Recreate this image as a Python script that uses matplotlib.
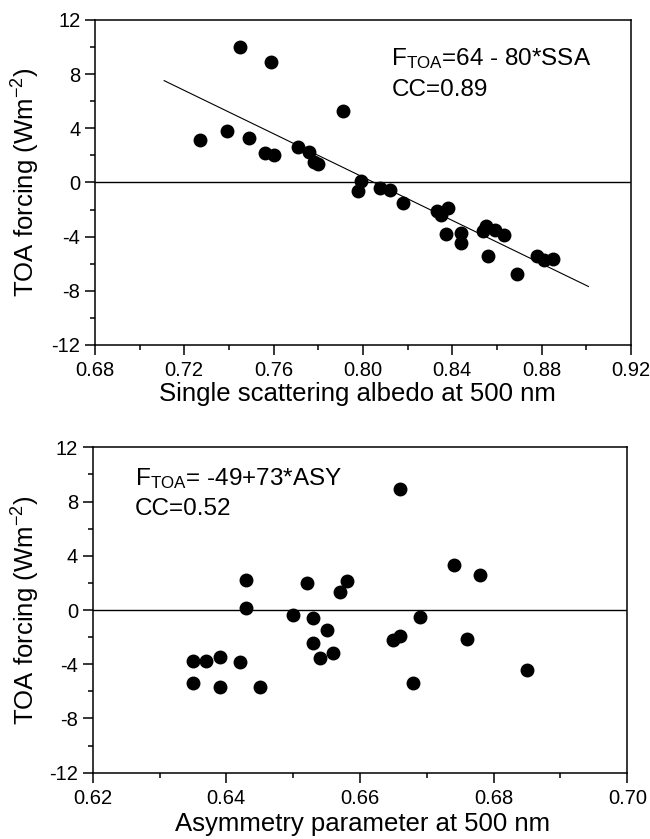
import matplotlib
matplotlib.use("Agg")
import matplotlib.pyplot as plt
import numpy as np

plt.rcParams['font.family'] = ['Liberation Sans', 'DejaVu Sans']
plt.rcParams['mathtext.default'] = 'regular'

# 上图: 单次散射反照率 vs TOA 强迫
ssa = [0.745, 0.759, 0.791, 0.727, 0.739, 0.749, 0.756, 0.760, 0.771, 0.776,
       0.778, 0.780, 0.799, 0.798, 0.8075, 0.812, 0.818, 0.833, 0.835, 0.838,
       0.837, 0.844, 0.844, 0.855, 0.854, 0.859, 0.863, 0.856, 0.869, 0.878,
       0.881, 0.885]
toa_ssa = [10.0, 8.9, 5.3, 3.1, 3.8, 3.3, 2.2, 2.0, 2.6, 2.25,
           1.5, 1.35, 0.1, -0.6, -0.4, -0.55, -1.5, -2.1, -2.4, -1.9,
           -3.8, -3.75, -4.45, -3.2, -3.6, -3.5, -3.85, -5.4, -6.75, -5.4,
           -5.7, -5.65]
fit_ssa_x = [0.711, 0.901]
fit_ssa_a, fit_ssa_b = 64.4, -80.0

# 下图: 不对称因子 vs TOA 强迫
asy = [0.643, 0.643, 0.635, 0.637, 0.639, 0.642, 0.635, 0.639, 0.645,
       0.652, 0.657, 0.658, 0.650, 0.653, 0.655, 0.653, 0.654, 0.656,
       0.666, 0.674, 0.678, 0.669, 0.665, 0.666, 0.676, 0.668, 0.685]
toa_asy = [2.25, 0.13, -3.75, -3.75, -3.5, -3.8, -5.35, -5.65, -5.65,
           1.97, 1.35, 2.15, -0.37, -0.6, -1.47, -2.45, -3.55, -3.2,
           8.9, 3.3, 2.6, -0.5, -2.2, -1.9, -2.1, -5.35, -4.4]

LABEL_FS = 18.5
TICK_FS = 14.5
NOTE_FS = 17.5

fig = plt.figure(figsize=(6.5, 8.39), dpi=100)
ax1 = fig.add_axes([0.146, 0.5888, 0.8246, 0.3874])
ax2 = fig.add_axes([0.1426, 0.0790, 0.8225, 0.3878])


def style_axis(ax):
    for sp in ax.spines.values():
        sp.set_linewidth(1.1)
    ax.tick_params(which='major', direction='out', length=7, width=1.1,
                   labelsize=TICK_FS)
    ax.tick_params(which='minor', direction='out', length=3.8, width=1.1)
    ax.tick_params(axis='x', which='major', pad=4.5)
    ax.tick_params(axis='y', which='major', pad=3.5)
    ax.tick_params(top=False, right=False, which='both')
    ax.set_ylim(-12, 12)
    ax.set_yticks(np.arange(-12, 13, 4))
    ax.set_yticks(np.arange(-10, 12, 4), minor=True)
    ax.axhline(0, color='black', lw=1.0, zorder=1)


# 上图
ax1.plot(ssa, toa_ssa, 'o', color='black', ms=9, zorder=3)
fx = np.array(fit_ssa_x)
ax1.plot(fx, fit_ssa_a + fit_ssa_b * fx, color='black', lw=0.8, zorder=2)
ax1.set_xlim(0.68, 0.92)
ax1.set_xticks(np.arange(0.68, 0.921, 0.04))
ax1.set_xticks(np.arange(0.70, 0.92, 0.04), minor=True)
ax1.set_xticklabels(['%.2f' % v for v in np.arange(0.68, 0.921, 0.04)])
style_axis(ax1)
ax1.set_yticklabels([str(v) for v in range(-12, 13, 4)])
ax1.set_xlabel('Single scattering albedo at 500 nm', fontsize=LABEL_FS)
ax1.set_ylabel('TOA forcing (Wm$^{-2}$)', fontsize=LABEL_FS)
ax1.xaxis.set_label_coords(0.49, -0.114)
ax1.yaxis.set_label_coords(-0.099, 0.5)
ax1.text(0.553, 0.862, 'F$_{TOA}$=64 - 80*SSA', transform=ax1.transAxes,
         fontsize=NOTE_FS, ha='left', va='baseline')
ax1.text(0.553, 0.767, 'CC=0.89', transform=ax1.transAxes,
         fontsize=NOTE_FS, ha='left', va='baseline')

# 下图
ax2.plot(asy, toa_asy, 'o', color='black', ms=9, zorder=3)
ax2.set_xlim(0.62, 0.70)
ax2.set_xticks(np.arange(0.62, 0.701, 0.02))
ax2.set_xticks(np.arange(0.63, 0.70, 0.02), minor=True)
ax2.set_xticklabels(['%.2f' % v for v in np.arange(0.62, 0.701, 0.02)])
style_axis(ax2)
ax2.set_yticklabels([str(v) for v in range(-12, 13, 4)])
ax2.set_xlabel('Asymmetry parameter at 500 nm', fontsize=LABEL_FS)
ax2.set_ylabel('TOA forcing (Wm$^{-2}$)', fontsize=LABEL_FS)
ax2.xaxis.set_label_coords(0.505, -0.122)
ax2.yaxis.set_label_coords(-0.095, 0.5)
ax2.text(0.079, 0.885, 'F$_{TOA}$= -49+73*ASY', transform=ax2.transAxes,
         fontsize=NOTE_FS, ha='left', va='baseline')
ax2.text(0.079, 0.792, 'CC=0.52', transform=ax2.transAxes,
         fontsize=NOTE_FS, ha='left', va='baseline')

fig.savefig('out.png', dpi=100)
